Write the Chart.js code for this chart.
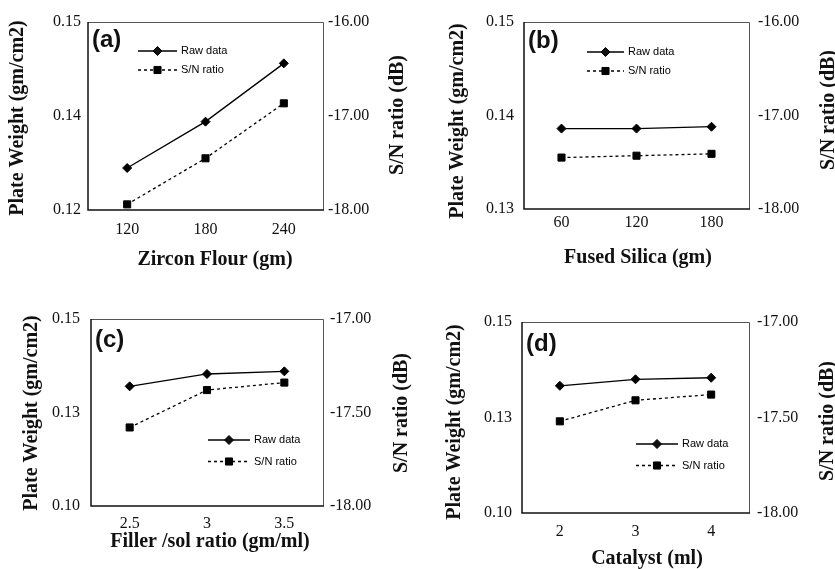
<!DOCTYPE html>
<html>
<head>
<meta charset="utf-8">
<script src="https://cdn.jsdelivr.net/npm/chart.js@4.4.1/dist/chart.umd.min.js"></script>
<style>
  html, body { margin: 0; padding: 0; background: #fff; }
  #wrap { position: relative; width: 835px; height: 569px; overflow: hidden; }
  #wrap canvas { position: absolute; }
</style>
</head>
<body>
<div id="wrap">
  <canvas id="chartA" width="417" height="287" style="left:0;top:0"></canvas>
  <canvas id="chartB" width="418" height="287" style="left:417px;top:0"></canvas>
  <canvas id="chartC" width="417" height="279" style="left:0;top:290px"></canvas>
  <canvas id="chartD" width="418" height="279" style="left:417px;top:290px"></canvas>
</div>
<script>
// ---- data ----
// (a) zircon flour
const zirconLabels = ['120', '180', '240'];
const zirconRaw = [0.1267, 0.1341, 0.1434];
const zirconSN = [-17.94, -17.45, -16.865];
const zirconLeftTicks = [0.12, 0.135, 0.15];
const zirconLeftTickLabels = ['0.12', '0.14', '0.15'];
const zirconRightTicks = [-18, -17, -16];

// (b) fused silica
const silicaLabels = ['60', '120', '180'];
const silicaRaw = [0.1386, 0.1386, 0.1388];
const silicaSN = [-17.45, -17.43, -17.41];
const silicaLeftTicks = [0.13, 0.14, 0.15];
const silicaLeftTickLabels = ['0.13', '0.14', '0.15'];
const silicaRightTicks = [-18, -17, -16];

// (c) filler / sol ratio
const fillerLabels = ['2.5', '3', '3.5'];
const fillerRaw = [0.1320, 0.1353, 0.1360];
const fillerSN = [-17.58, -17.38, -17.34];
const fillerLeftTicks = [0.10, 0.125, 0.15];
const fillerLeftTickLabels = ['0.10', '0.13', '0.15'];
const fillerRightTicks = [-18, -17.5, -17];

// (d) catalyst
const catalystLabels = ['2', '3', '4'];
const catalystRaw = [0.1333, 0.1350, 0.1354];
const catalystSN = [-17.52, -17.41, -17.38];
const catalystLeftTicks = [0.10, 0.125, 0.15];
const catalystLeftTickLabels = ['0.10', '0.13', '0.15'];
const catalystRightTicks = [-18, -17.5, -17];

const seriesNames = ['Raw data', 'S/N ratio'];

const SERIF = '"Liberation Serif", "Times New Roman", serif';
const SANS = '"Liberation Sans", Arial, sans-serif';

// box, titles, panel letter and legend
const decorPlugin = {
  id: 'decor',
  beforeDatasetsDraw(chart, args, o) {
    const { ctx, chartArea: a } = chart;
    ctx.save();
    ctx.strokeStyle = '#555';
    ctx.lineWidth = 1;
    ctx.beginPath();
    ctx.moveTo(a.left, a.top + 0.5);
    ctx.lineTo(a.right + 0.5, a.top + 0.5);
    ctx.lineTo(a.right + 0.5, a.bottom);
    ctx.stroke();
    ctx.strokeStyle = '#111';
    ctx.lineWidth = 1.5;
    ctx.beginPath();
    ctx.moveTo(a.left, a.top);
    ctx.lineTo(a.left, a.bottom);
    ctx.lineTo(a.right + 1, a.bottom);
    ctx.stroke();
    ctx.restore();
  },
  afterDraw(chart, args, o) {
    const { ctx, chartArea: a } = chart;
    ctx.save();
    ctx.fillStyle = '#111';
    ctx.font = 'bold 20px ' + SERIF;
    ctx.textAlign = 'center';
    ctx.textBaseline = 'middle';
    ctx.fillText(o.xTitle, o.xTitlePos[0], o.xTitlePos[1]);
    [[o.leftTitle, o.leftTitlePos], [o.rightTitle, o.rightTitlePos]].forEach(([t, p]) => {
      ctx.save();
      ctx.translate(p[0], p[1]);
      ctx.rotate(-Math.PI / 2);
      ctx.fillText(t, 0, 0);
      ctx.restore();
    });

    ctx.font = 'bold 24px ' + SANS;
    ctx.textAlign = 'left';
    ctx.textBaseline = 'alphabetic';
    ctx.fillText(o.letter, a.left + o.letterPos[0], a.top + o.letterPos[1]);

    // legend
    const lx = a.left + o.legendPos[0];
    chart.data.datasets.forEach((ds, i) => {
      const y = a.top + o.legendPos[1] + i * o.legendGap;
      ctx.save();
      ctx.strokeStyle = '#000';
      ctx.lineWidth = 1.3;
      ctx.setLineDash(ds.borderDash || []);
      ctx.beginPath();
      ctx.moveTo(lx, y);
      ctx.lineTo(lx + o.legendLen, y);
      ctx.stroke();
      ctx.restore();
      Chart.helpers.drawPoint(ctx, {
        pointStyle: ds.pointStyle, radius: ds.pointRadius, borderWidth: 1
      }, lx + o.legendLen / 2, y);
      ctx.fillStyle = '#000';
      ctx.font = '11px ' + SANS;
      ctx.textBaseline = 'middle';
      ctx.fillText(ds.label, lx + o.legendLen + 4, y);
    });
    ctx.restore();
  }
};

function makePanel(id, labels, raw, sn, leftTicks, leftTickLabels, rightTicks, lay) {
  const ctx = document.getElementById(id).getContext('2d');
  ctx.fillStyle = '#000';
  ctx.strokeStyle = '#000';
  return new Chart(ctx, {
    type: 'line',
    data: {
      labels: labels,
      datasets: [{
        label: seriesNames[0],
        data: raw,
        yAxisID: 'yL',
        borderColor: '#000',
        backgroundColor: '#000',
        borderWidth: 1.3,
        pointStyle: 'rectRot',
        pointRadius: 4.5,
        pointBorderWidth: 1,
        tension: 0
      }, {
        label: seriesNames[1],
        data: sn,
        yAxisID: 'yR',
        borderColor: '#000',
        backgroundColor: '#000',
        borderWidth: 1.3,
        borderDash: [3, 3],
        pointStyle: 'rect',
        pointRadius: 5,
        pointBorderWidth: 1,
        tension: 0
      }]
    },
    options: {
      responsive: false,
      animation: false,
      devicePixelRatio: 1,
      layout: { padding: { top: lay.padTop, left: 0, right: 0, bottom: 0 } },
      plugins: {
        legend: { display: false },
        tooltip: { enabled: false },
        decor: lay.decor
      },
      scales: {
        x: {
          type: 'category',
          offset: true,
          grid: { display: false, drawTicks: false },
          border: { display: false },
          ticks: { color: '#111', font: { family: SERIF, size: 16 }, padding: lay.xPad, maxRotation: 0 },
          afterFit: s => { s.height = lay.xH; }
        },
        yL: {
          position: 'left',
          min: leftTicks[0],
          max: leftTicks[leftTicks.length - 1],
          grid: { display: false, drawTicks: false },
          border: { display: false },
          afterBuildTicks: s => { s.ticks = leftTicks.map(v => ({ value: v })); },
          ticks: {
            autoSkip: false,
            color: '#111',
            font: { family: SERIF, size: 16 },
            padding: lay.lPad,
            callback: (v, i) => leftTickLabels[i]
          },
          afterFit: s => { s.width = lay.leftW; }
        },
        yR: {
          position: 'right',
          min: rightTicks[0],
          max: rightTicks[rightTicks.length - 1],
          grid: { display: false, drawTicks: false },
          border: { display: false },
          afterBuildTicks: s => { s.ticks = rightTicks.map(v => ({ value: v })); },
          ticks: {
            autoSkip: false,
            color: '#111',
            font: { family: SERIF, size: 16 },
            padding: lay.rPad,
            callback: v => v.toFixed(2)
          },
          afterFit: s => { s.width = lay.rightW; }
        }
      }
    },
    plugins: [decorPlugin]
  });
}

makePanel('chartA', zirconLabels, zirconRaw, zirconSN, zirconLeftTicks, zirconLeftTickLabels, zirconRightTicks, {
  padTop: 22, xH: 77, leftW: 88, rightW: 94, xPad: 10, lPad: 7, rPad: 5,
  decor: {
    letter: '(a)', letterPos: [4, 25],
    xTitle: 'Zircon Flour (gm)', xTitlePos: [215, 260],
    leftTitle: 'Plate Weight (gm/cm2)', leftTitlePos: [18, 118],
    rightTitle: 'S/N ratio (dB)', rightTitlePos: [398, 115],
    legendPos: [50, 29], legendLen: 39, legendGap: 19
  }
});

makePanel('chartB', silicaLabels, silicaRaw, silicaSN, silicaLeftTicks, silicaLeftTickLabels, silicaRightTicks, {
  padTop: 22, xH: 78, leftW: 107, rightW: 86, xPad: 4, lPad: 10, rPad: 9,
  decor: {
    letter: '(b)', letterPos: [4, 26],
    xTitle: 'Fused Silica (gm)', xTitlePos: [221, 258],
    leftTitle: 'Plate Weight (gm/cm2)', leftTitlePos: [41, 121],
    rightTitle: 'S/N ratio (dB)', rightTitlePos: [412, 110],
    legendPos: [63, 30], legendLen: 37, legendGap: 19
  }
});

makePanel('chartC', fillerLabels, fillerRaw, fillerSN, fillerLeftTicks, fillerLeftTickLabels, fillerRightTicks, {
  padTop: 29, xH: 63, leftW: 91, rightW: 94, xPad: 8, lPad: 11, rPad: 7,
  decor: {
    letter: '(c)', letterPos: [4, 28],
    xTitle: 'Filler /sol ratio (gm/ml)', xTitlePos: [210, 252],
    leftTitle: 'Plate Weight (gm/cm2)', leftTitlePos: [32, 123],
    rightTitle: 'S/N ratio (dB)', rightTitlePos: [402, 123],
    legendPos: [117, 121], legendLen: 42, legendGap: 21.5
  }
});

makePanel('chartD', catalystLabels, catalystRaw, catalystSN, catalystLeftTicks, catalystLeftTickLabels, catalystRightTicks, {
  padTop: 32, xH: 56, leftW: 105, rightW: 86, xPad: 9, lPad: 10, rPad: 8,
  decor: {
    letter: '(d)', letterPos: [4, 29],
    xTitle: 'Catalyst (ml)', xTitlePos: [230, 269],
    leftTitle: 'Plate Weight (gm/cm2)', leftTitlePos: [38, 132],
    rightTitle: 'S/N ratio (dB)', rightTitlePos: [411, 131],
    legendPos: [114, 122], legendLen: 42, legendGap: 21.5
  }
});
</script>
</body>
</html>
